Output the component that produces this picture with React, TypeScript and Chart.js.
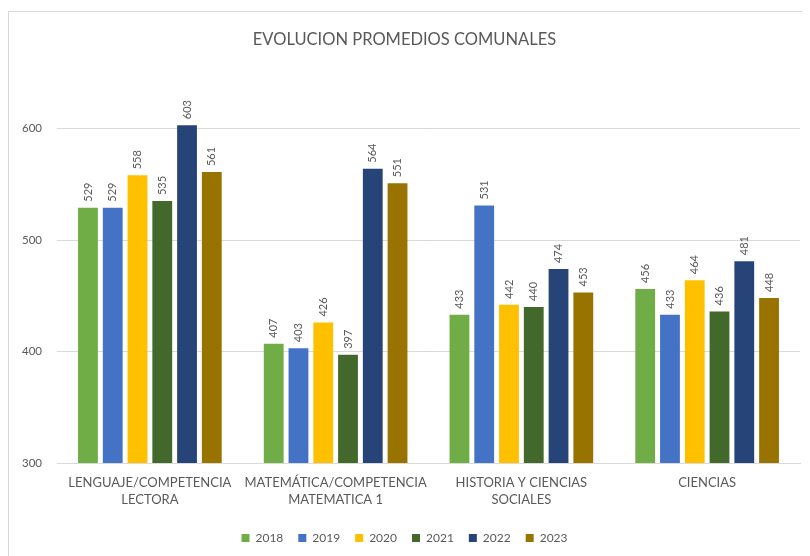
import React, { useEffect, useRef } from "react";
import { Chart, registerables } from "chart.js";

Chart.register(...registerables);

const categories: string[][] = [
  ["LENGUAJE/COMPETENCIA", "LECTORA"],
  ["MATEMÁTICA/COMPETENCIA", "MATEMATICA 1"],
  ["HISTORIA Y CIENCIAS", "SOCIALES"],
  ["CIENCIAS"],
];

const years = ["2018", "2019", "2020", "2021", "2022", "2023"];
const values2018 = [529, 407, 433, 456];
const values2019 = [529, 403, 531, 433];
const values2020 = [558, 426, 442, 464];
const values2021 = [535, 397, 440, 436];
const values2022 = [603, 564, 474, 481];
const values2023 = [561, 551, 453, 448];
const seriesValues = [values2018, values2019, values2020, values2021, values2022, values2023];
const seriesColors = ["#70AD47", "#4472C4", "#FFC000", "#43682B", "#264478", "#997300"];

const FONT = "Lato, 'Open Sans', sans-serif";
const TEXT = "#595959";

const dataLabelPlugin = {
  id: "rotatedLabels",
  afterDatasetsDraw(chart: any) {
    const ctx = chart.ctx;
    ctx.save();
    ctx.fillStyle = TEXT;
    ctx.font = `11px ${FONT}`;
    ctx.textAlign = "left";
    ctx.textBaseline = "middle";
    chart.data.datasets.forEach((ds: any, di: number) => {
      const meta = chart.getDatasetMeta(di);
      meta.data.forEach((bar: any, i: number) => {
        ctx.save();
        ctx.translate(bar.x, bar.y - 6);
        ctx.rotate(-Math.PI / 2);
        ctx.fillText(String(ds.data[i]), 0, 0);
        ctx.restore();
      });
    });
    ctx.restore();
  },
};

export default function App() {
  const ref = useRef<HTMLCanvasElement | null>(null);
  useEffect(() => {
    document.body.style.overflow = "hidden";
    const chart = new Chart(ref.current as HTMLCanvasElement, {
      type: "bar",
      data: {
        labels: categories,
        datasets: years.map((y, i) => ({
          label: y,
          data: seriesValues[i],
          backgroundColor: seriesColors[i],
          borderWidth: 0,
          categoryPercentage: 0.8,
          barPercentage: 0.8,
        })),
      },
      options: {
        animation: false,
        responsive: false,
        maintainAspectRatio: false,
        layout: { padding: { left: 0, right: 10, top: 0, bottom: 2 } },
        plugins: {
          title: {
            display: true,
            text: "EVOLUCION PROMEDIOS COMUNALES",
            color: TEXT,
            font: { family: FONT, size: 16.5, weight: "normal", lineHeight: 1.2 },
            padding: { top: 18, bottom: 23 },
          },
          legend: {
            position: "bottom",
            labels: {
              boxWidth: 8,
              boxHeight: 8,
              color: TEXT,
              font: { family: FONT, size: 12 },
              padding: 15,
            },
          },
          tooltip: { enabled: false },
        },
        scales: {
          x: {
            grid: { display: false, drawTicks: false },
            border: { display: true, color: "#d9d9d9" },
            ticks: {
              color: TEXT,
              font: { family: FONT, size: 13, lineHeight: 1.3 },
              padding: 11,
              maxRotation: 0,
              autoSkip: false,
            },
            afterFit(scale: any) {
              scale.height = 54;
            },
          },
          y: {
            min: 300,
            max: 650,
            grid: { color: "#d9d9d9", drawTicks: false },
            border: { display: false },
            ticks: {
              stepSize: 100,
              includeBounds: false,
              color: TEXT,
              font: { family: FONT, size: 11.5 },
              padding: 15,
            },
            afterFit(scale: any) {
              scale.width = 48;
            },
          },
        },
      },
      plugins: [dataLabelPlugin],
    } as any);
    return () => chart.destroy();
  }, []);
  return (
    <div
      style={{
        marginTop: 3,
        borderTop: "1px solid #d9d9d9",
        borderLeft: "1px solid #d9d9d9",
        width: 801,
        height: 544,
      }}
    >
      <canvas ref={ref} width={801} height={544} style={{ display: "block" }} />
    </div>
  );
}
